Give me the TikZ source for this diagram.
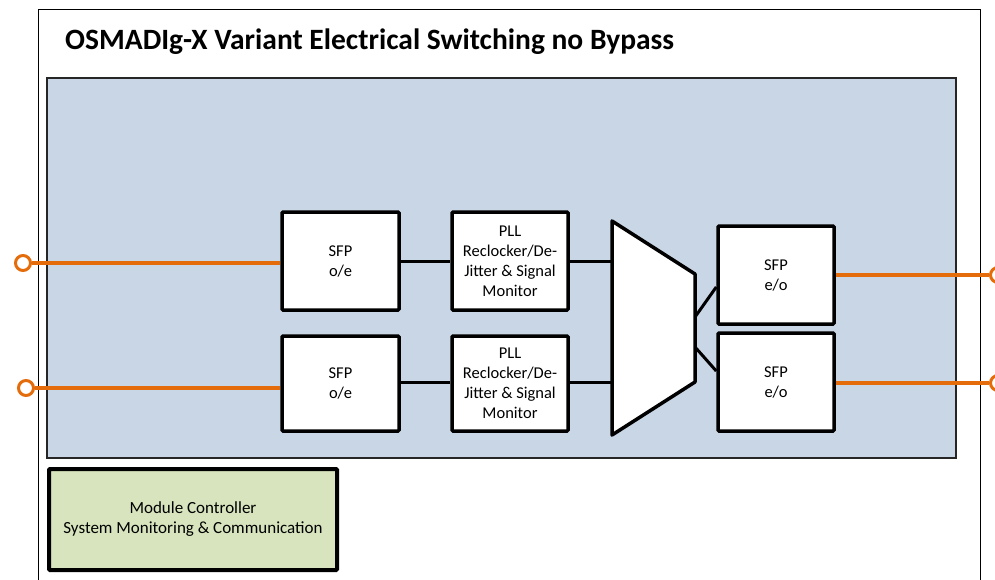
\documentclass[tikz,border=0pt]{standalone}
\usepackage{fontspec}
\setmainfont{Carlito}
\definecolor{bluefill}{RGB}{201,214,229}
\definecolor{greenfill}{RGB}{215,228,189}
\definecolor{orng}{RGB}{228,108,10}
\begin{document}
\begin{tikzpicture}[x=1pt,y=-1pt,
  blk/.style={draw=black,line width=3.5pt,fill=white,rounded corners=1pt,align=center,font=\fontsize{16.5}{20}\selectfont,inner sep=0pt},
  wire/.style={draw=black,line width=3pt},
  owire/.style={draw=orng,line width=4pt},
  port/.style={circle,draw=orng,line width=3pt,fill=white,minimum size=15pt,inner sep=0pt}]
\useasboundingbox (0,0) rectangle (995,579);
% outer frame
\draw[line width=1pt] (38,9) rectangle (980,590);
\node[anchor=base west,font=\fontsize{29.5}{34}\bfseries\selectfont,inner sep=0pt] (title) at (65,49) {OSMADIg-X Variant Electrical Switching no Bypass};
% blue area
\draw[draw=black!85,line width=2pt,fill=bluefill] (47,78) rectangle (956,458);
% boxes
\path (282,212) rectangle node[blk,minimum width=117pt,minimum height=98pt] (sfp1) {SFP\\o/e} (399,310);
\path (282,336) rectangle node[blk,minimum width=117pt,minimum height=95pt] (sfp2) {SFP\\o/e} (399,431);
\path (452,212) rectangle node[blk,minimum width=116pt,minimum height=98pt] (pll1) {PLL\\Reclocker/De-\\Jitter \& Signal\\Monitor} (568,310);
\path (452,336) rectangle node[blk,minimum width=116pt,minimum height=95pt] (pll2) {PLL\\Reclocker/De-\\Jitter \& Signal\\Monitor} (568,431);
\path (718,226) rectangle node[blk,minimum width=116pt,minimum height=98pt] (sfo1) {SFP\\e/o} (834,324);
\path (718,333) rectangle node[blk,minimum width=116pt,minimum height=98pt] (sfo2) {SFP\\e/o} (834,431);
% mux
\coordinate (m1) at (612,221);
\coordinate (m2) at (695,274);
\coordinate (m3) at (695,382);
\coordinate (m4) at (612,435);
\draw[line width=3.5pt,fill=white,line join=round] (m1) -- (m2) -- (m3) -- (m4) -- cycle;
\coordinate (mi1) at (612,261);
\coordinate (mi2) at (612,382);
\coordinate (mo1) at (695,317);
\coordinate (mo2) at (695,347);
% wires
\draw[wire] (sfp1.east |- 0,261) -- (pll1.west |- 0,261);
\draw[wire] (sfp2.east |- 0,382) -- (pll2.west |- 0,382);
\draw[wire] (pll1.east |- 0,261) -- (mi1);
\draw[wire] (pll2.east |- 0,382) -- (mi2);
\draw[wire] (mo1) -- (sfo1.west |- 0,287);
\draw[wire] (mo2) -- (sfo2.west |- 0,371);
% ports
\node[port] (pl1) at (23,263) {};
\node[port] (pl2) at (26,388) {};
\node[port] (pr1) at (998,275) {};
\node[port] (pr2) at (998,383) {};
\draw[owire] (pl1.east) -- (sfp1.west |- pl1);
\draw[owire] (pl2.east) -- (sfp2.west |- pl2);
\draw[owire] (sfo1.east |- pr1) -- (pr1.west);
\draw[owire] (sfo2.east |- pr2) -- (pr2.west);
% controller
\path (49,469) rectangle node[draw=black,line width=4pt,fill=greenfill,rounded corners=1pt,minimum width=288pt,minimum height=101pt,align=center,font=\fontsize{17}{20}\selectfont,inner sep=0pt] (ctrl) {Module Controller\\System Monitoring \& Communication} (337,570);
\end{tikzpicture}
\end{document}
